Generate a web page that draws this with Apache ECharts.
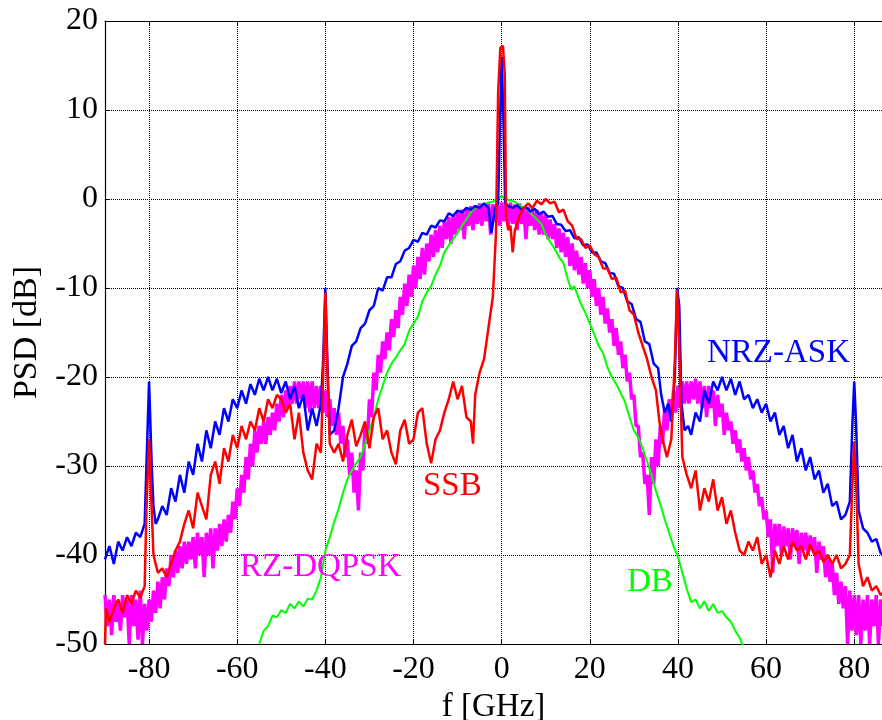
<!DOCTYPE html>
<html><head><meta charset="utf-8">
<script src="https://cdn.jsdelivr.net/npm/echarts@6/dist/echarts.min.js"></script>
<style>html,body{margin:0;padding:0;background:#fff}#c{width:882px;height:720px}</style>
</head><body><div id="c"></div>
<script>
// NRZ-ASK (blue) [f GHz, PSD dB]
const nrzAsk = [[-90,-40.5],[-89,-39],[-88,-41],[-87,-38.5],[-86,-39.5],[-85,-38],[-84,-39],[-83,-37.5],[-82,-38],[-81,-36.5],[-80.6,-30],[-80,-20.5],[-79.4,-30],[-79,-34.5],[-78.5,-36.5],[-78,-36],[-77,-34.5],[-76,-35.5],[-75,-32.5],[-74,-34],[-73,-31],[-72,-33],[-71,-29.5],[-70,-31],[-69,-27.5],[-68,-29.5],[-67,-26],[-66,-28],[-65,-25],[-64,-26.5],[-63,-23.5],[-62,-25],[-61,-22.5],[-60,-23.5],[-59,-21.5],[-58,-23],[-57,-20.8],[-56,-22],[-55,-20.2],[-54,-21.5],[-53,-20],[-52,-21.5],[-51,-20.2],[-50,-21.8],[-49,-20.5],[-48,-22.5],[-47,-21],[-46,-23.5],[-45,-22],[-44,-26],[-43,-23.5],[-42,-25.5],[-41,-23],[-40.5,-18],[-40,-10],[-39.5,-19],[-39,-26.5],[-38,-26],[-37,-23.5],[-36,-20],[-35,-18.5],[-34,-16.5],[-33,-16],[-32,-14.5],[-31,-14],[-30,-12.5],[-29,-12],[-28,-10],[-27,-10.3],[-26,-8.8],[-25,-8.8],[-24,-7.3],[-23,-7],[-22,-5.8],[-21,-5.5],[-20,-4.6],[-19,-4.8],[-18,-3.8],[-17,-4],[-16,-3],[-15,-3.2],[-14,-2.4],[-13,-2.5],[-12,-1.6],[-11,-1.9],[-10,-1.3],[-9,-1.5],[-8,-1],[-7,-1.2],[-6,-0.8],[-5,-1],[-4,-0.5],[-3,-1],[-2.3,-3.8],[-1.5,-1],[-0.8,-0.5],[-0.4,8],[0,16],[0.4,9],[0.8,-0.5],[1.5,-0.8],[2.5,-1],[3.5,-0.7],[4.5,-1.2],[5.5,-0.9],[6.5,-1.4],[7.5,-1.1],[8.5,-1.7],[9.5,-1.4],[10.5,-2],[11.5,-1.9],[12.5,-2.8],[13.5,-2.9],[14.5,-3.6],[15.5,-3.5],[16.5,-4.4],[17.5,-4.3],[18.5,-5.2],[19.5,-5.1],[20.5,-6],[21.5,-6],[22.5,-7],[23.5,-7.2],[24.5,-8.3],[25.5,-8.4],[26.5,-9.8],[27.5,-10],[28.5,-11.5],[29.5,-11.8],[30.5,-13.5],[31.5,-13.8],[32.5,-16],[33.5,-16.3],[34.5,-18.5],[35.5,-19],[36.2,-22],[37,-24],[37.8,-23],[38.5,-25],[39.3,-20],[39.8,-10],[40.3,-12],[40.8,-23],[41.5,-26],[42.3,-25.5],[43,-26.5],[44,-24],[45,-25],[46,-21.5],[47,-23],[48,-20.5],[49,-21.5],[50,-20],[51,-21.5],[52,-20.2],[53,-22],[54,-20.5],[55,-22.5],[56,-22],[57,-23.5],[58,-22.5],[59,-24],[60,-23],[61,-25],[62,-24],[63,-26.5],[64,-25.5],[65,-28],[66,-26.5],[67,-29.5],[68,-28],[69,-30.5],[70,-29],[71,-31.5],[72,-30.5],[73,-33],[74,-32],[75,-34.5],[76,-34],[77,-36],[78,-35.5],[79,-34],[79.6,-25],[80,-20.5],[80.4,-25],[81,-35],[82,-37],[83,-37.5],[84,-38.5],[85,-38.2],[86,-39.8],[87,-40]];

// SSB (red)
const ssb = [[-90,-50],[-89.8,-46],[-89,-47.5],[-88,-46],[-87,-45],[-86,-46.5],[-85,-44.5],[-84,-45.5],[-83,-44],[-82,-44.8],[-81,-43.5],[-80.6,-35],[-80,-27],[-79.4,-35],[-79,-40],[-78,-42],[-77,-41.5],[-76,-42.5],[-75,-41],[-74,-39.5],[-73,-38.5],[-72,-36.5],[-71,-35],[-70,-37],[-69,-33],[-68,-34.5],[-67,-36],[-66,-31],[-65,-29.5],[-64,-32],[-63,-28],[-62,-29.5],[-61,-26.5],[-60,-28],[-59,-25.5],[-58,-27],[-57,-25],[-56,-26],[-55,-23.5],[-54,-25],[-53,-22.5],[-52,-23.5],[-51,-22],[-50,-22.5],[-49,-24],[-48,-23],[-47,-27],[-46,-24],[-45,-28.5],[-44,-30.5],[-43,-31.5],[-42,-27.5],[-41,-28.5],[-40.5,-20],[-40,-10.5],[-39.5,-20],[-39,-27.5],[-38,-28.5],[-37,-27.5],[-36,-29.5],[-35,-26.5],[-34,-24.8],[-33,-27.8],[-32,-26.5],[-31,-25],[-30,-28],[-29,-24.5],[-28,-23.5],[-27,-27],[-26,-26],[-25,-28.5],[-24,-29.8],[-23,-26],[-22,-24.8],[-21,-27.5],[-20,-27],[-19,-24],[-18,-23.5],[-17,-27.5],[-16,-29.7],[-15,-27],[-14,-26],[-13,-24],[-12,-22.5],[-11,-20.5],[-10,-22.5],[-9,-21],[-8,-24.5],[-7,-25],[-6.5,-27.5],[-6,-22],[-5,-19.5],[-4,-18],[-3,-14.5],[-2,-11],[-1.3,-4],[-0.8,12],[-0.3,17],[0.3,17.2],[0.7,14],[1,-2],[1.5,-3.5],[2,-3],[2.5,-6],[3,-3.5],[4,-2],[5,-1],[6,-0.5],[7,-1],[8,-0.2],[9,-0.6],[10,0],[11,-0.5],[12,-0.3],[13,-1.5],[14,-1.2],[15,-2.5],[16,-3],[17,-4.5],[18,-4.5],[19,-5.5],[20,-5.2],[21,-6.2],[22,-6.5],[23,-7.8],[24,-7.8],[25,-9],[26,-8.8],[27,-10.5],[28,-10.3],[29,-12.5],[30,-13],[31,-15],[32,-16.5],[33,-18],[34,-20],[35,-21.5],[35.8,-25],[36.5,-27],[37.5,-29],[38.5,-27],[39.3,-18],[39.8,-10.2],[40.3,-17],[41,-29],[42,-31],[43,-32.5],[44,-30.5],[45,-35],[46,-32.5],[47,-34],[48,-31.5],[49,-35],[50,-33.5],[51,-36.5],[52,-35],[53,-37.5],[54,-39.5],[55,-40],[56,-38.5],[57,-39.5],[58,-38],[59,-41],[60,-40],[61,-42.5],[62,-39.5],[63,-41],[64,-39],[65,-40.5],[66,-38.5],[67,-39.5],[68,-39],[69,-40.5],[70,-38.8],[71,-40],[72,-39.5],[73,-40.8],[74,-40],[75,-41],[76,-40],[77,-41.5],[78,-41],[79,-40],[79.5,-33],[80,-27.3],[80.5,-33],[81,-41],[82,-43.5],[83,-42.5],[84,-44],[85,-43.5],[86,-44.5],[87,-44]];

// DB (green)
const db = [[-55,-50],[-54,-48.5],[-53,-48],[-52,-46.8],[-51,-47],[-50,-46.2],[-49,-46.5],[-48,-45.5],[-47,-46],[-46,-45.2],[-45,-45.8],[-44,-44.9],[-43,-45],[-42,-44],[-41,-42.5],[-40,-39.5],[-39,-38],[-38,-36.3],[-37,-34.8],[-36,-33],[-35,-31.5],[-34,-30.5],[-33,-29.7],[-32,-29],[-31,-27.5],[-30,-26],[-29,-24.5],[-28,-22.5],[-27,-21],[-26,-19.5],[-25,-18.5],[-24,-17.8],[-23,-17],[-22,-16.3],[-21,-14.8],[-20,-14],[-19,-13.2],[-18,-11.5],[-17,-10.5],[-16,-9.8],[-15,-8.5],[-14,-7.5],[-13,-6],[-12,-5.2],[-11,-4.5],[-10,-3.8],[-9,-3],[-8,-2.3],[-7,-1.5],[-6,-1],[-5,-0.8],[-4,-0.6],[-3,-0.4],[-2,-0.3],[-1,0],[0,0.3],[1,0],[2,-0.2],[3,-0.3],[4,-0.7],[5,-1],[6,-1.2],[7,-1.8],[8,-2.3],[9,-2.8],[10,-4],[11,-4.8],[12,-5.6],[13,-6.5],[14,-7.2],[15,-9],[15.8,-10.2],[16.5,-9.8],[17,-10.5],[18,-11.8],[19,-12.8],[20,-14],[21,-15.2],[22,-16.5],[23,-17.3],[24,-18.9],[25,-20],[26,-20.8],[27,-21.8],[28,-22.8],[29,-24.5],[30,-26],[31,-26.8],[32,-28],[33,-29.5],[34,-31],[35,-32.8],[36,-34.3],[37,-36],[38,-37.5],[39,-39],[40,-40.2],[41,-42],[42,-43.8],[43,-45.3],[44,-45],[45,-46],[46,-45.2],[47,-46.3],[48,-45.5],[49,-46.5],[50,-46.3],[51,-47],[52,-47.5],[53,-48.5],[54,-49.3],[55,-50.5]];

// RZ-DQPSK (magenta): sampled every 0.5 GHz starting at -90 GHz
const rzStartGHz = -90;
const rzStepGHz = 0.5;
const rzDqpsk = [
-44.5,-48,-45,-49,-44.5,-47.5,-45.5,-48.5,-44.5,-47,-45,-50,-44.5,-48,-45,-49.5,-44,-50,-45.5,-48.5,
-45,-47.5,-44,-46.5,-43,-46,-42.5,-45,-41.5,-43.5,-40,-42.5,-39.5,-42,-39,-41.5,-38.5,-41,-38.5,-40.5,
-38,-41.5,-37.5,-40,-38,-42.5,-37.5,-40,-37,-41.5,-37,-39.5,-36.5,-39,-36,-38.5,-35.5,-37.5,-34,-36,
-32.5,-34.5,-31,-33,-29,-31.5,-27.5,-30,-26,-28.5,-25.5,-27.5,-25,-27.5,-24.5,-26.5,-24,-26,-23,-25,
-22,-24.5,-21.5,-23.5,-21,-23,-20.5,-23,-20.5,-22.5,-20.5,-23.5,-20.5,-24,-20.5,-23.5,-21,-23.5,-21,-24,
-21.5,-24.5,-22.5,-25.5,-23.5,-26.5,-24,-27.5,-25.5,-29,-27,-31,-28.5,-33,-30.5,-35,-28.5,-30.5,-25.5,-27.5,
-22.5,-24.5,-19.5,-21.5,-17.5,-19.5,-16,-18,-15,-17,-13.5,-15.5,-12.5,-14.5,-11,-13,-9.5,-12,-8.5,-11,
-7.5,-10,-6.5,-9,-5.5,-8.5,-5,-7,-4,-6.5,-3.5,-6,-3,-5.5,-2.5,-4.5,-2,-5,-1.8,-4,
-1.5,-3.5,-1.2,-4.5,-1,-3,-0.8,-3.5,-0.7,-2.8,-0.5,-3,-0.6,-2.5,-0.5,-4,-0.6,-2.5,-0.5,-3,
-0.4,-2.5,-0.5,-3,-0.4,-2.8,-0.6,-3.5,-0.5,-2.8,-0.8,-4.5,-0.9,-3,-1,-3.5,-1.2,-4,-1.5,-4,
-1.8,-4.5,-2.3,-4.5,-2.8,-5.5,-3.3,-6,-3.8,-6.5,-4.3,-7.5,-5,-8,-5.8,-8.5,-6.5,-9.5,-7.2,-10,
-8,-11,-9,-12,-10,-13,-11,-14,-12.3,-15,-13.5,-16.5,-14.5,-17.5,-16,-19,-17.5,-20.5,-19.5,-22.5,
-22,-25.5,-25.5,-29,-28.5,-32,-31,-35.5,-29,-32,-27,-30,-25.5,-27.5,-23.5,-26,-22.5,-25,-21.5,-24,
-21,-23.5,-20.5,-23,-20.5,-23,-20.5,-22.5,-20.2,-23,-20.5,-23.5,-21,-24.5,-21,-23.5,-21.5,-25.5,-22,-24.5,
-23,-26.5,-24,-26,-25,-27.5,-26,-28.5,-27,-29.5,-28,-30.5,-29,-31.5,-30.5,-33,-32,-34.5,-33.5,-36,
-35,-38,-36,-42,-36.5,-39,-36.5,-40,-36.8,-39,-37,-40.5,-37,-39,-37.2,-41,-37.5,-39.5,-37.5,-40,
-37.8,-39.5,-38,-42,-38.5,-40.5,-39,-42.5,-40,-43,-41,-44.5,-42,-45.5,-43,-46,-43.5,-50,-44,-48.5,
-44.5,-49,-44.5,-50,-45,-48.5,-44.5,-50,-45,-48,-44.5,-50,-45,-48,-45
];

const xTickLabels = ['-80','-60','-40','-20','0','20','40','60','80'];
const yTickLabels = ['-50','-40','-30','-20','-10','0','10','20'];

const rzData = rzDqpsk.map((v, i) => [rzStartGHz + i * rzStepGHz, v]);

const FONT = '"Liberation Serif","Times New Roman",serif';
const chart = echarts.init(document.getElementById('c'), null, {renderer: 'canvas'});
const lbl = {color: '#000', fontFamily: FONT, fontSize: 32};
const X_MIN = -90, X_MAX = 86.3; // the figure is cropped at the right edge
chart.setOption({
  animation: false,
  backgroundColor: '#fff',
  grid: {left: 105, top: 21, right: 0, bottom: 76, containLabel: false, outerBoundsMode: 'none'},
  xAxis: [{
    type: 'value', min: X_MIN, max: X_MAX, splitNumber: 9, position: 'bottom',
    axisLine: {show: true, onZero: false, lineStyle: {color: '#000', width: 1.2}},
    axisTick: {show: true, inside: true, length: 5, lineStyle: {color: '#000'}},
    axisLabel: Object.assign({margin: 10, showMinLabel: false, showMaxLabel: false,
      formatter: v => (xTickLabels.indexOf(String(v)) >= 0 ? String(v) : '')}, lbl),
    splitLine: {show: true, lineStyle: {color: '#000', type: 'dotted', width: 1}},
    name: 'f [GHz]', nameLocation: 'middle', nameGap: 41,
    nameTextStyle: {color: '#000', fontFamily: FONT, fontSize: 33}
  }, {
    type: 'value', min: X_MIN, max: X_MAX, splitNumber: 9, position: 'top',
    axisLine: {show: true, onZero: false, lineStyle: {color: '#000', width: 1.2}},
    axisTick: {show: true, inside: true, length: 5, lineStyle: {color: '#000'}},
    axisLabel: {show: false}, splitLine: {show: false}
  }],
  yAxis: {
    type: 'value', min: -50, max: 20, interval: 10,
    axisLine: {show: true, onZero: false, lineStyle: {color: '#000', width: 1.2}},
    axisTick: {show: true, inside: true, length: 5, lineStyle: {color: '#000'}},
    axisLabel: Object.assign({margin: 7,
      formatter: v => (yTickLabels.indexOf(String(v)) >= 0 ? String(v) : '')}, lbl),
    splitLine: {show: true, lineStyle: {color: '#000', type: 'dotted', width: 1}},
    name: 'PSD [dB]', nameLocation: 'middle', nameGap: 46, nameRotate: 90,
    nameTextStyle: {color: '#000', fontFamily: FONT, fontSize: 34}
  },
  series: [
    {name: 'RZ-DQPSK', type: 'line', data: rzData, showSymbol: false, symbol: 'none',
      lineStyle: {color: '#ff00ff', width: 3.5}, z: 2},
    {name: 'DB', type: 'line', data: db, showSymbol: false, symbol: 'none',
      lineStyle: {color: '#00ff00', width: 2}, z: 3},
    {name: 'NRZ-ASK', type: 'line', data: nrzAsk, showSymbol: false, symbol: 'none',
      lineStyle: {color: '#0000ff', width: 2.5}, z: 4},
    {name: 'SSB', type: 'line', data: ssb, showSymbol: false, symbol: 'none',
      lineStyle: {color: '#ff0000', width: 2.5}, z: 5}
  ],
  graphic: [
    {type: 'text', left: 707, top: 337, z: 100, style: {text: 'NRZ-ASK', fill: '#0000ff', font: '33px ' + FONT}},
    {type: 'text', left: 423, top: 470, z: 100, style: {text: 'SSB', fill: '#ff0000', font: '33px ' + FONT}},
    {type: 'text', left: 240, top: 551, z: 100, style: {text: 'RZ-DQPSK', fill: '#ff00ff', font: '33px ' + FONT}},
    {type: 'text', left: 627, top: 566, z: 100, style: {text: 'DB', fill: '#00ff00', font: '33px ' + FONT}}
  ]
});
</script>
</body></html>
